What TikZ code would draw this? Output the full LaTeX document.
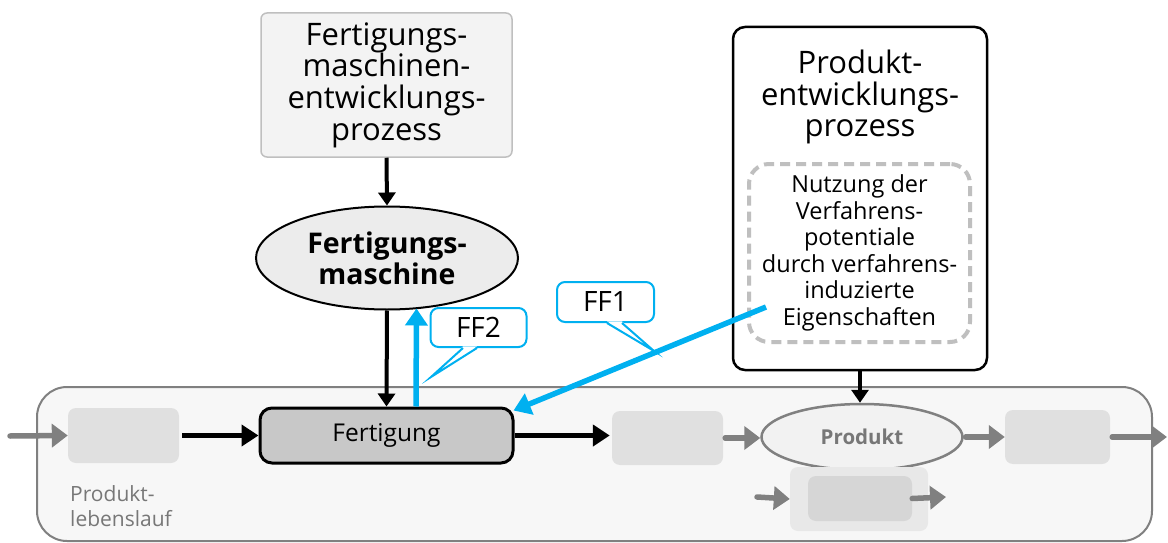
\documentclass[tikz,border=0pt]{standalone}
\usepackage{fontspec}
\setmainfont{Open Sans}
\usetikzlibrary{arrows.meta,shapes.geometric}
\definecolor{ffcyan}{RGB}{0,176,240}
\definecolor{arrowgray}{HTML}{808080}
\definecolor{stagefill}{HTML}{E0E0E0}
\definecolor{lifefill}{HTML}{F7F7F7}
\definecolor{lifeborder}{HTML}{808080}
\definecolor{topfill}{HTML}{F3F3F3}
\definecolor{topborder}{HTML}{BFBFBF}
\definecolor{machfill}{HTML}{ECECEC}
\definecolor{fertfill}{HTML}{C8C8C8}
\definecolor{prodfill}{HTML}{F2F2F2}
\definecolor{subouter}{HTML}{E8E8E8}
\definecolor{subinner}{HTML}{D6D6D6}
\definecolor{dashgray}{HTML}{BFBFBF}
\definecolor{labelgray}{HTML}{777777}
\tikzset{
  titlefont/.style={font=\fontsize{31}{31.7}\selectfont},
  procbox/.style={draw=topborder, fill=topfill, line width=1.5pt, rounded corners=6pt},
  stage/.style={fill=stagefill, draw=none, rounded corners=8pt},
  blkarrow/.style={line width=5pt, -{Triangle[length=17pt,width=21pt]}},
  thinblk/.style={line width=4pt, -{Triangle[length=13pt,width=17pt]}},
  grayarrow/.style={draw=arrowgray, line width=5.5pt, line cap=round, -{Triangle[length=16pt,width=23pt]}},
  cyanarrow/.style={draw=ffcyan, line width=5.5pt, -{Triangle[length=17pt,width=22pt]}},
  callout/.style={draw=ffcyan, fill=white, line width=2pt, rounded corners=8pt,
    font=\fontsize{28}{30}\selectfont},
}
\begin{document}
\begin{tikzpicture}[x=1pt,y=-1pt]
\useasboundingbox (0,0) rectangle (1168,543);

% product life cycle frame
\node[draw=lifeborder, fill=lifefill, line width=2pt, rounded corners=30pt,
      minimum width=1115pt, minimum height=154pt] (plc) at (594.5,464) {};
\node[anchor=north west, align=left, text=labelgray, inner sep=0pt,
      font=\fontsize{21}{25}\selectfont] (plclabel) at (70,485) {Produkt-\\lebenslauf};

% machine development process
\node[procbox, minimum width=251pt, minimum height=144pt, align=center, titlefont]
  (fmep) at (386.5,85) {Fertigungs-\\maschinen-\\entwicklungs-\\prozess};
\node[ellipse, draw, fill=machfill, line width=2pt, minimum width=262pt, minimum height=103pt,
      align=center, font=\fontsize{28.5}{31}\selectfont\bfseries]
  (fm) at (387,258) {Fertigungs-\\maschine};

% product development process
\node[draw, fill=white, line width=2.5pt, rounded corners=12pt,
      minimum width=254pt, minimum height=343pt] (pe) at (860,198.5) {};
\node[align=center, titlefont] (petitle) at (860,97) {Produkt-\\entwicklungs-\\prozess};
\node[draw=dashgray, line width=4pt, dash pattern=on 10pt off 6pt, rounded corners=20pt,
      minimum width=221pt, minimum height=178pt, align=center,
      font=\fontsize{23.5}{26.5}\selectfont]
  (nutz) at (859.5,253) {Nutzung der\\Verfahrens-\\potentiale\\durch verfahrens-\\induzierte\\Eigenschaften};

% life cycle stages
\node[stage, minimum width=111pt, minimum height=55pt] (b1) at (123.5,435.5) {};
\node[draw, fill=fertfill, line width=3pt, rounded corners=12pt,
      minimum width=253pt, minimum height=55pt, font=\fontsize{24.5}{26}\selectfont]
  (fert) at (386.5,435.5) {Fertigung};
\node[stage, minimum width=111pt, minimum height=54pt] (b2) at (667.5,438) {};
\node[ellipse, draw=arrowgray, fill=prodfill, line width=2.5pt, minimum width=201pt,
      minimum height=66pt, text=labelgray, font=\fontsize{20.5}{22}\selectfont\bfseries]
  (prod) at (862,437) {Produkt};
\node[stage, minimum width=105pt, minimum height=54pt] (b3) at (1057.5,437) {};
\node[fill=subouter, rounded corners=8pt, minimum width=138pt, minimum height=64pt] (subo) at (859,499) {};
\node[fill=subinner, rounded corners=8pt, minimum width=104pt, minimum height=45pt] (subi) at (860,498.5) {};

\coordinate (lcin) at (10,436);
\coordinate (lcout) at (1167,437);
\coordinate (subin) at (757,497);
\coordinate (subout) at (946,497);

% flow along the life cycle
\draw[grayarrow] (lcin) -- (b1.west);
\draw[blkarrow, shorten <=3pt] (b1.east) -- (fert.west);
\draw[blkarrow, shorten >=2pt] (fert.east) -- (fert.east -| b2.west);
\draw[grayarrow, shorten <=2pt] (b2.east) -- (b2.east -| prod.west);
\draw[grayarrow, shorten <=2pt] (prod.east) -- (b3.west);
\draw[grayarrow, shorten <=2pt] (b3.east) -- (lcout);
\draw[grayarrow] (subin) -- (subo.west);
\draw[grayarrow] (subi.east) -- (subout);

% links between the processes
\draw[thinblk] (fmep.south) -- (fm.north);
\draw[thinblk] (fm.south) -- (fert.north);
\draw[thinblk] (pe.south) -- (pe.south |- prod.north);

% feedback links
\coordinate (ff1start) at (766,307);
\draw[cyanarrow] ([xshift=29.5pt]fert.north) -- ([xshift=29.5pt,yshift=2pt]fm.south);
\draw[cyanarrow] (ff1start) -- ([shift={(-1,4)}]fert.north east);

% callouts
\node[callout, minimum width=96pt, minimum height=39pt] (ff2) at (478.5,327.5) {FF2};
\coordinate (ff2tip) at (431,377);
\fill[white] ([xshift=-15.5pt,yshift=1.6pt]ff2.south) -- (ff2tip) -- ([xshift=-1.5pt,yshift=1.6pt]ff2.south) -- cycle;
\draw[ffcyan, line width=2pt, miter limit=20] ([xshift=-15.5pt]ff2.south) -- (ff2tip) -- ([xshift=-1.5pt]ff2.south);

\node[callout, minimum width=97pt, minimum height=40pt] (ff1) at (605.5,302) {FF1};
\coordinate (ff1tip) at (654,351);
\fill[white] ([xshift=1.5pt,yshift=1.6pt]ff1.south) -- (ff1tip) -- ([xshift=16.5pt,yshift=1.6pt]ff1.south) -- cycle;
\draw[ffcyan, line width=2pt, miter limit=20] ([xshift=1.5pt]ff1.south) -- (ff1tip) -- ([xshift=16.5pt]ff1.south);
\end{tikzpicture}
\end{document}
